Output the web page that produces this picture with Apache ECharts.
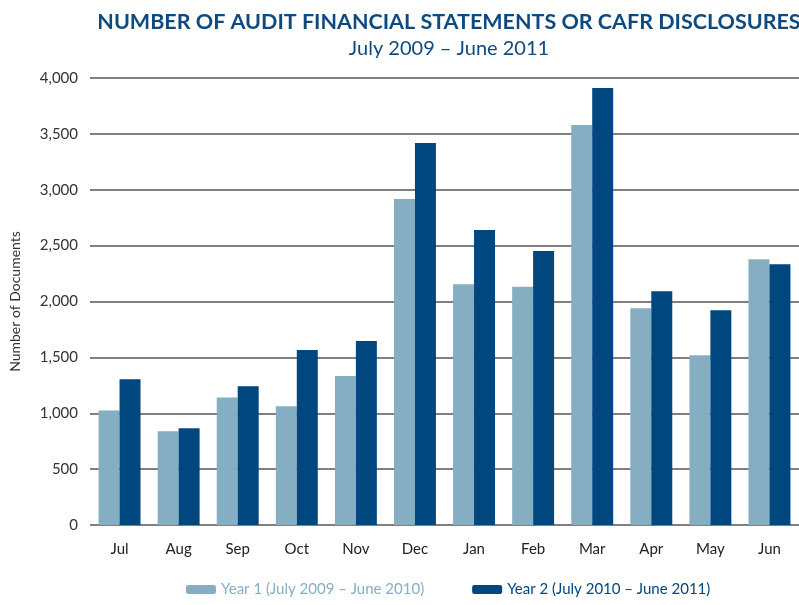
<!DOCTYPE html>
<html>
<head>
<meta charset="utf-8">
<script src="https://cdn.jsdelivr.net/npm/echarts@6/dist/echarts.min.js"></script>
<style>
  html, body { margin: 0; padding: 0; background: #fff; }
  #chart { width: 799px; height: 605px; }
</style>
</head>
<body>
<div id="chart"></div>
<script>
const months = ['Jul', 'Aug', 'Sep', 'Oct', 'Nov', 'Dec', 'Jan', 'Feb', 'Mar', 'Apr', 'May', 'Jun']
const year1 = [1025, 838, 1142, 1062, 1333, 2917, 2155, 2131, 3580, 1940, 1519, 2379]
const year2 = [1304, 865, 1241, 1566, 1647, 3418, 2639, 2451, 3911, 2092, 1922, 2334]
const year1Name = 'Year 1 (July 2009 – June 2010)'
const year2Name = 'Year 2 (July 2010 – June 2011)'

const lightBlue = '#86aec3'
const darkBlue = '#00467f'
const font = 'Lato'

const chart = echarts.init(document.getElementById('chart'))

const option = {
    animation: false,
    title: {
        text: 'NUMBER OF AUDIT FINANCIAL STATEMENTS OR CAFR DISCLOSURES',
        subtext: 'July 2009 – June 2011',
        left: 444,
        textAlign: 'center',
        top: 6,
        itemGap: 6,
        textStyle: { color: '#0d4a80', fontFamily: font, fontWeight: 'bold', fontSize: 21.5 },
        subtextStyle: { color: '#0d4a80', fontFamily: font, fontSize: 20 }
    },
    legend: {
        bottom: 3,
        left: 181,
        itemWidth: 30,
        itemHeight: 9,
        itemGap: 48,
        data: [
            { name: year1Name, textStyle: { color: lightBlue } },
            { name: year2Name, textStyle: { color: darkBlue } }
        ],
        textStyle: { fontFamily: font, fontSize: 15 }
    },
    grid: { left: 89, right: -7, top: 78, bottom: 80 },
    xAxis: {
        type: 'category',
        data: months,
        axisLine: { show: false },
        axisTick: { show: false },
        axisLabel: { color: '#222', fontFamily: font, fontSize: 15, margin: 17 }
    },
    yAxis: {
        type: 'value',
        min: 0,
        max: 4000,
        interval: 500,
        name: 'Number of Documents',
        nameLocation: 'middle',
        nameGap: 68,
        nameTextStyle: { color: '#333', fontFamily: font, fontSize: 14 },
        axisLabel: {
            color: '#333', fontFamily: font, fontSize: 15, margin: 12,
            formatter: v => v.toLocaleString('en-US')
        },
        splitLine: { lineStyle: { color: '#555', width: 1.5 } }
    },
    series: [
        {
            name: year1Name, type: 'bar', data: year1,
            itemStyle: { color: lightBlue },
            barGap: '0%', barCategoryGap: '29%'
        },
        {
            name: year2Name, type: 'bar', data: year2,
            itemStyle: { color: darkBlue },
            barGap: '0%', barCategoryGap: '29%'
        }
    ]
}

chart.setOption(option)
</script>
</body>
</html>
